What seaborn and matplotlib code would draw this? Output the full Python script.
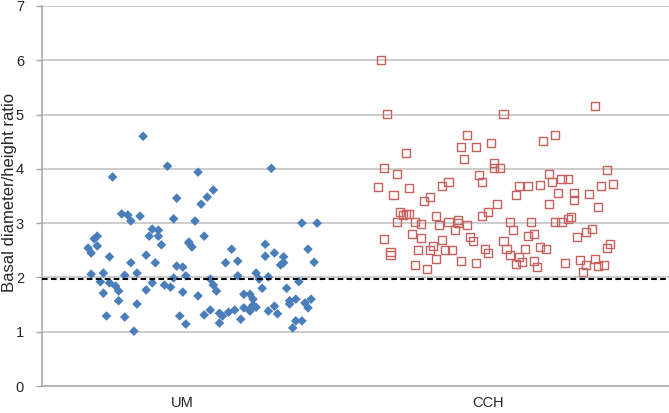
import matplotlib
matplotlib.use('Agg')
import matplotlib.pyplot as plt
import pandas as pd
import seaborn as sns

# Values
categories = ['UM', 'CCH']
threshold = 1.97

# UM: jitter offset from category centre, and ratio
um_offset = [-0.13, -0.23, -0.05, -0.02, -0.20, -0.18, -0.17, -0.14, -0.03, -0.10,
             -0.08, -0.11, -0.08, -0.07, -0.28, -0.29, -0.31, -0.30, -0.28, -0.24,
             -0.12, -0.17, -0.09, -0.02, 0.00, 0.02, -0.30, -0.26, -0.19, -0.15,
             -0.27, -0.24, -0.22, -0.21, -0.26, -0.12, -0.10, -0.06, -0.04, -0.03,
             0.00, 0.01, -0.21, -0.15, -0.25, -0.19, -0.01, -0.16, 0.01, 0.05,
             0.29, 0.10, 0.08, 0.06, 0.04, 0.07, 0.39, 0.44, 0.02, 0.03,
             0.16, 0.27, 0.41, 0.14, 0.18, 0.27, 0.30, 0.33, 0.32, 0.33,
             0.43, 0.18, 0.24, 0.25, 0.28, 0.09, 0.10, 0.11, 0.38, 0.05,
             0.20, 0.22, 0.26, 0.34, 0.35, 0.35, 0.37, 0.40, 0.41, 0.42,
             0.20, 0.23, 0.22, 0.30, 0.28, 0.31, 0.07, 0.09, 0.12, 0.13,
             0.15, 0.17, 0.19, 0.12, 0.23, 0.24, 0.22, 0.36, 0.37, 0.39]
um_ratio = [4.60, 3.85, 4.05, 3.46, 3.17, 3.15, 3.04, 3.13, 3.08, 2.89,
            2.87, 2.76, 2.76, 2.60, 2.76, 2.71, 2.54, 2.45, 2.58, 2.38,
            2.41, 2.27, 2.27, 2.21, 2.19, 2.63, 2.06, 2.08, 2.04, 2.08,
            1.92, 1.90, 1.84, 1.75, 1.71, 1.77, 1.90, 1.86, 1.82, 1.99,
            1.73, 2.03, 1.57, 1.51, 1.29, 1.27, 1.29, 1.01, 1.14, 3.94,
            4.01, 3.61, 3.48, 3.35, 3.04, 2.76, 3.00, 3.00, 2.65, 2.56,
            2.52, 2.61, 2.52, 2.27, 2.30, 2.39, 2.45, 2.38, 2.23, 2.27,
            2.28, 2.03, 2.08, 1.97, 2.01, 1.97, 1.86, 1.75, 1.92, 1.66,
            1.69, 1.69, 1.80, 1.80, 1.57, 1.51, 1.60, 1.53, 1.44, 1.60,
            1.44, 1.49, 1.38, 1.47, 1.38, 1.33, 1.31, 1.40, 1.34, 1.29,
            1.36, 1.40, 1.23, 1.16, 1.60, 1.45, 1.42, 1.07, 1.20, 1.20]

# CCH: jitter offset from category centre, and ratio
cch_offset = [-0.35, -0.33, -0.27, -0.07, -0.09, -0.04, -0.08, 0.01, -0.34, -0.30,
              -0.36, -0.26, -0.31, -0.15, -0.13, -0.03, -0.02, -0.21, -0.19, -0.29,
              -0.28, -0.27, -0.26, -0.30, -0.24, -0.22, -0.17, -0.16, -0.13, -0.10,
              -0.10, -0.11, -0.07, -0.02, 0.00, -0.34, -0.25, -0.22, -0.15, -0.06,
              -0.05, -0.32, -0.32, -0.23, -0.19, -0.18, -0.14, -0.12, -0.17, -0.09,
              -0.04, -0.24, -0.20, 0.35, 0.05, 0.22, 0.18, 0.02, 0.02, 0.04,
              0.20, 0.21, 0.24, 0.26, 0.39, 0.10, 0.13, 0.17, 0.37, 0.41,
              0.09, 0.23, 0.28, 0.33, 0.28, 0.03, 0.20, 0.36, 0.07, 0.14,
              0.22, 0.24, 0.26, 0.27, 0.08, 0.13, 0.15, 0.29, 0.32, 0.34,
              0.05, -0.01, 0.00, 0.06, 0.07, 0.12, 0.17, 0.19, 0.10, 0.09,
              0.11, 0.15, 0.16, 0.25, 0.30, 0.32, 0.31, 0.35, 0.36, 0.38,
              0.39, 0.40]
cch_ratio = [6.00, 5.01, 4.29, 4.62, 4.40, 4.40, 4.18, 4.48, 4.01, 3.90,
             3.66, 3.65, 3.52, 3.68, 3.76, 3.89, 3.76, 3.41, 3.48, 3.20,
             3.15, 3.17, 3.17, 3.02, 3.02, 2.98, 3.13, 2.96, 3.02, 3.00,
             3.06, 2.87, 2.96, 3.13, 3.20, 2.71, 2.80, 2.73, 2.69, 2.74,
             2.67, 2.47, 2.41, 2.50, 2.50, 2.58, 2.50, 2.50, 2.34, 2.30,
             2.27, 2.23, 2.16, 5.16, 5.01, 4.62, 4.51, 4.11, 4.01, 4.01,
             3.90, 3.76, 3.81, 3.81, 3.98, 3.68, 3.68, 3.70, 3.68, 3.72,
             3.52, 3.55, 3.55, 3.53, 3.42, 3.35, 3.35, 3.29, 3.02, 3.02,
             3.02, 3.02, 3.08, 3.11, 2.87, 2.76, 2.80, 2.74, 2.84, 2.89,
             2.67, 2.52, 2.45, 2.52, 2.41, 2.52, 2.56, 2.52, 2.38, 2.25,
             2.28, 2.30, 2.19, 2.27, 2.32, 2.23, 2.10, 2.34, 2.21, 2.23,
             2.54, 2.61]

um = pd.DataFrame({'x': [1 + o for o in um_offset], 'ratio': um_ratio})
cch = pd.DataFrame({'x': [2 + o for o in cch_offset], 'ratio': cch_ratio})

sns.set_style('white')
plt.rcParams['font.family'] = ['Liberation Sans', 'DejaVu Sans']

fig = plt.figure(figsize=(6.69, 4.13), dpi=100)
ax = fig.add_axes([42 / 669, 27 / 413, 627 / 669, 380 / 413])

# Gridlines
ax.set_axisbelow(True)
ax.yaxis.grid(True, color='#bfbfbf', linewidth=1.1)
ax.xaxis.grid(False)

sns.scatterplot(data=um, x='x', y='ratio', marker='D', s=24,
                color='#4a7ebb', edgecolor='none', ax=ax, zorder=3)
sns.scatterplot(data=cch, x='x', y='ratio', marker='s', s=34,
                color='#c0504d', facecolor='none', edgecolor='#c8605d',
                linewidth=1.0, ax=ax, zorder=3)

# Threshold line
ax.axhline(threshold, color='black', linestyle=(0, (2.7, 1.6)), linewidth=1.5, zorder=4)

ax.set_xlim(0.539, 2.592)
ax.set_ylim(0, 7)
ax.set_yticks(range(0, 8))
ax.set_xticks([1, 2])
ax.set_xticklabels(categories)
ax.tick_params(axis='y', which='both', left=True, length=4, width=1,
               color='#a6a6a6', labelsize=10.5, labelcolor='#262626', pad=9)
ax.tick_params(axis='x', length=0, labelsize=10.5, labelcolor='#262626', pad=7)
ax.set_xlabel('')
ax.set_ylabel('Basal diameter/height ratio', fontsize=12, color='#262626')
ax.yaxis.set_label_coords(-0.040, 0.51)

for side in ['top', 'right']:
    ax.spines[side].set_visible(False)
for side in ['left', 'bottom']:
    ax.spines[side].set_color('#a6a6a6')
    ax.spines[side].set_linewidth(1.1)

fig.savefig('out.png', dpi=100)
